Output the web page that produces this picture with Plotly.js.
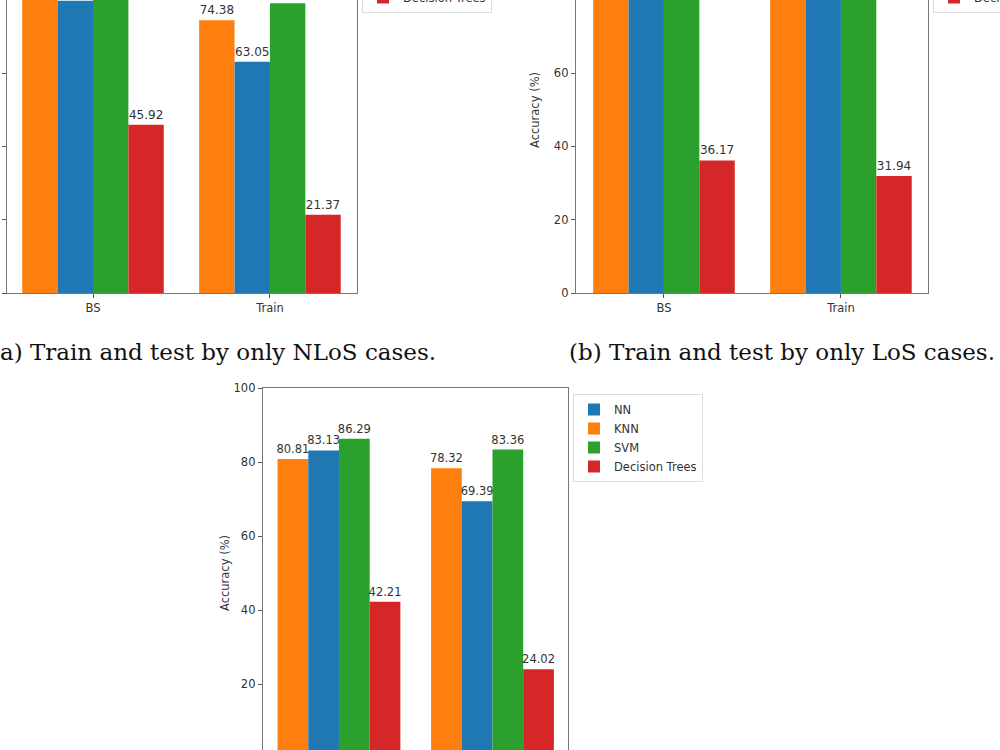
<!DOCTYPE html>
<html>
<head>
<meta charset="utf-8">
<script src="https://cdn.plot.ly/plotly-3.0.1.min.js"></script>
<style>html,body{margin:0;padding:0;background:#fff;}#chart{width:1000px;height:750px;}</style>
</head>
<body>
<div id="chart"></div>
<script>
// ---- data ----
const categories = ['BS', 'Train'];
const models = ['KNN', 'NN', 'SVM', 'Decision Trees'];
const legendOrder = { 'NN': 1, 'KNN': 2, 'SVM': 3, 'Decision Trees': 4 };
const colors = { 'NN': '#1f77b4', 'KNN': '#ff7f0e', 'SVM': '#2ca02c', 'Decision Trees': '#d62728' };

// (a) Train and test by only NLoS cases (bars above ~80 are cut off by the crop; those values are estimates)
const nlosKNN = [84.6, 74.38];
const nlosNN = [79.7, 63.05];
const nlosSVM = [85.4, 79.0];
const nlosDT = [45.92, 21.37];

// (b) Train and test by only LoS cases (KNN/NN/SVM are above the crop; estimates)
const losKNN = [92.0, 90.5];
const losNN = [94.0, 91.0];
const losSVM = [95.0, 92.5];
const losDT = [36.17, 31.94];

// (c) combined
const allKNN = [80.81, 78.32];
const allNN = [83.13, 69.39];
const allSVM = [86.29, 83.36];
const allDT = [42.21, 24.02];

const captionA = '(a) Train and test by only NLoS cases.';
const captionB = '(b) Train and test by only LoS cases.';
const yTitle = 'Accuracy (%)';

// ---- layout helpers (pixels -> paper) ----
const W = 1000, H = 750;
const px = v => v / W;
const py = v => 1 - v / H;

const panels = [
  { data: [nlosKNN, nlosNN, nlosSVM, nlosDT], xa: 'x', ya: 'y', leg: 'legend', fs: 12 },
  { data: [losKNN, losNN, losSVM, losDT], xa: 'x2', ya: 'y2', leg: 'legend2', fs: 12 },
  { data: [allKNN, allNN, allSVM, allDT], xa: 'x3', ya: 'y3', leg: 'legend3', fs: 11.5 }
];

const traces = [];
panels.forEach(p => {
  models.forEach((m, i) => {
    traces.push({
      type: 'bar',
      name: m,
      x: categories,
      y: p.data[i],
      xaxis: p.xa, yaxis: p.ya,
      legend: p.leg,
      legendrank: legendOrder[m],
      marker: { color: colors[m] },
      text: p.data[i].map(v => v.toFixed(2)),
      textposition: 'outside',
      textfont: { family: 'DejaVu Sans', size: p.fs, color: '#333' },
      constraintext: 'none',
      cliponaxis: true,
      hoverinfo: 'none'
    });
  });
});

const axisFont = { family: 'DejaVu Sans', size: 11.5, color: '#333' };
function xAxis(domain, range, anchor) {
  return {
    domain: domain, range: range, anchor: anchor,
    type: 'category', categoryorder: 'array', categoryarray: categories,
    showline: true, mirror: true, linecolor: '#777', linewidth: 1.2,
    ticks: 'outside', ticklen: 4, tickcolor: '#555', tickfont: axisFont,
    showgrid: false, zeroline: false, fixedrange: true, automargin: false
  };
}
function yAxis(domain, range, anchor, showLabels) {
  return {
    domain: domain, range: range, anchor: anchor,
    tickvals: [0, 20, 40, 60, 80, 100],
    showticklabels: showLabels,
    showline: true, mirror: true, linecolor: '#777', linewidth: 1.2,
    ticks: 'outside', ticklen: 4, tickcolor: '#555', tickfont: axisFont,
    showgrid: false, zeroline: false, fixedrange: true, automargin: false
  };
}

const legendBase = {
  bgcolor: 'rgba(255,255,255,0.9)', bordercolor: '#ddd', borderwidth: 1,
  font: { family: 'DejaVu Sans', size: 11.5, color: '#333' },
  traceorder: 'normal', itemclick: false, itemdoubleclick: false
};

const topScale = 220 / 60; // px per unit in top panels
const botScale = 296 / 80; // px per unit in bottom panel

const layout = {
  width: W, height: H,
  margin: { l: 0, r: 0, t: 0, b: 0, autoexpand: false },
  paper_bgcolor: '#fff', plot_bgcolor: '#fff',
  barmode: 'group', bargap: 0.2, bargroupgap: 0,
  showlegend: true,
  xaxis: xAxis([px(7), px(357)], [-0.486, 1.492], 'y'),
  yaxis: yAxis([py(293), 1], [0, 293 / topScale], 'x', false),
  xaxis2: xAxis([px(576), px(928)], [-0.497, 1.492], 'y2'),
  yaxis2: yAxis([py(293), 1], [0, 293 / topScale], 'x2', true),
  xaxis3: xAxis([px(263), px(568)], [-0.495, 1.492], 'y3'),
  yaxis3: yAxis([0, py(388)], [100 - 362 / botScale, 100], 'x3', true),
  legend: Object.assign({}, legendBase, { x: px(362), y: py(13), xanchor: 'left', yanchor: 'bottom' }),
  legend2: Object.assign({}, legendBase, { x: px(933), y: py(13), xanchor: 'left', yanchor: 'bottom' }),
  legend3: Object.assign({}, legendBase, { x: px(573), y: py(394), xanchor: 'left', yanchor: 'top' }),
  annotations: [
    { text: captionA, xref: 'paper', yref: 'paper', x: px(438), y: py(352), xanchor: 'right', yanchor: 'middle',
      showarrow: false, font: { family: 'DejaVu Serif', size: 23, color: '#111' } },
    { text: captionB, xref: 'paper', yref: 'paper', x: px(567), y: py(352), xanchor: 'left', yanchor: 'middle',
      showarrow: false, font: { family: 'DejaVu Serif', size: 23, color: '#111' } },
    { text: yTitle, xref: 'paper', yref: 'paper', x: px(535), y: py(110), xanchor: 'center', yanchor: 'middle',
      textangle: -90, showarrow: false, font: axisFont },
    { text: yTitle, xref: 'paper', yref: 'paper', x: px(225), y: py(573), xanchor: 'center', yanchor: 'middle',
      textangle: -90, showarrow: false, font: axisFont }
  ]
};

Plotly.newPlot('chart', traces, layout, { staticPlot: true, displayModeBar: false });
</script>
</body>
</html>
